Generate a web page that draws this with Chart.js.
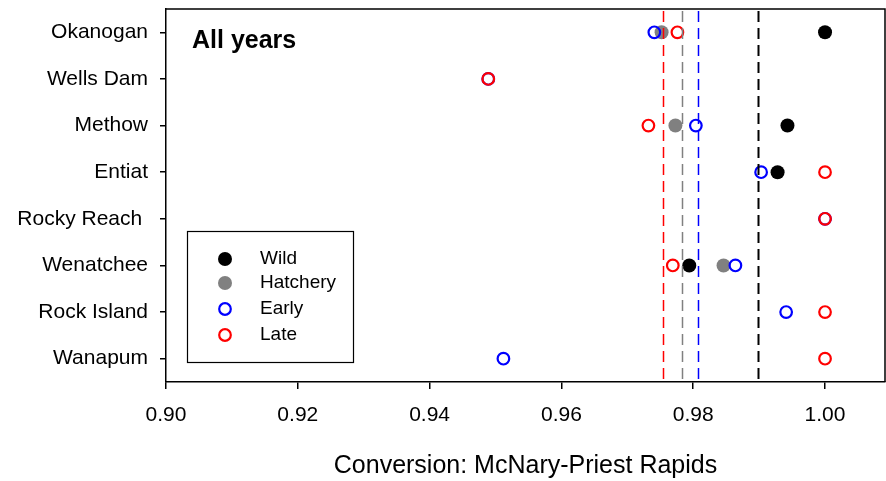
<!DOCTYPE html>
<html>
<head>
<meta charset="utf-8">
<script src="https://cdn.jsdelivr.net/npm/chart.js@4/dist/chart.umd.min.js"></script>
<style>
  html, body { margin: 0; padding: 0; background: #fff; overflow: hidden; }
</style>
</head>
<body>
<canvas id="c" width="886" height="481"></canvas>
<script>
/* -------- Daten -------- */
const sites = ["Okanogan", "Wells Dam", "Methow", "Entiat", "Rocky Reach ", "Wenatchee", "Rock Island", "Wanapum"];

// Werte pro Standort (null = kein Punkt)
const wild     = [1.000, null,  0.9943, 0.9928, null,  0.9794, null,   null];
const hatchery = [0.9752, null, 0.9773, null,   null,  0.9846, null,   null];
const early    = [0.9741, 0.9489, 0.9804, 0.9903, 1.000, 0.9864, 0.9941, 0.9512];
const late     = [0.9776, 0.9489, 0.9732, 1.000, 1.000, 0.9769, 1.000, 1.000];

// Mittelwerte (gestrichelte Linien)
const meanWild = 0.9898;
const meanHatchery = 0.9783;
const meanEarly = 0.9807;
const meanLate = 0.9754;

const xTicks = [0.90, 0.92, 0.94, 0.96, 0.98, 1.00];
const legendLabels = ["Wild", "Hatchery", "Early", "Late"];

const FONT = "'Liberation Sans', Arial, sans-serif";

function toPoints(values) {
  return values
    .map((v, i) => (v === null ? null : { x: v, y: sites[i] }))
    .filter(p => p);
}

/* -------- Plugin: Rahmen, Mittelwerte, Legende, Text -------- */
const extras = {
  id: "extras",
  afterDatasetsDraw(chart) {
    const { ctx, chartArea: a, scales } = chart;
    const xs = scales.x;

    // gestrichelte Mittelwert-Linien
    const means = [
      { v: meanLate, c: "#ff0000", w: 1.5 },
      { v: meanHatchery, c: "#808080", w: 1.5 },
      { v: meanEarly, c: "#0000ff", w: 1.5 },
      { v: meanWild, c: "#000000", w: 2 }
    ];
    ctx.save();
    means.forEach(m => {
      const px = Math.round(xs.getPixelForValue(m.v)) + 0.5;
      ctx.beginPath();
      ctx.setLineDash([11, 6]);
      ctx.strokeStyle = m.c;
      ctx.lineWidth = m.w;
      ctx.moveTo(px, a.top + 2);
      ctx.lineTo(px, a.bottom);
      ctx.stroke();
    });
    ctx.restore();

    // Rahmen oben / rechts
    ctx.save();
    ctx.strokeStyle = "#000";
    ctx.lineWidth = 1.5;
    ctx.beginPath();
    ctx.moveTo(a.left, a.top);
    ctx.lineTo(a.right, a.top);
    ctx.lineTo(a.right, a.bottom);
    ctx.stroke();
    ctx.restore();

    // "All years"
    ctx.save();
    ctx.fillStyle = "#000";
    ctx.font = "bold 25px " + FONT;
    ctx.textBaseline = "middle";
    ctx.fillText("All years", 192, 41);
    ctx.restore();

    // Legende
    ctx.save();
    ctx.strokeStyle = "#000";
    ctx.lineWidth = 1.2;
    ctx.fillStyle = "#fff";
    ctx.fillRect(187, 231, 166, 131);
    ctx.strokeRect(187.5, 231.5, 166, 131);
    const rows = [
      { y: 259, fill: "#000", stroke: "#000" },
      { y: 283, fill: "#808080", stroke: "#808080" },
      { y: 309, fill: null, stroke: "#0000ff" },
      { y: 335, fill: null, stroke: "#ff0000" }
    ];
    ctx.font = "19px " + FONT;
    ctx.textBaseline = "middle";
    rows.forEach((r, i) => {
      ctx.beginPath();
      ctx.arc(225, r.y, r.fill ? 7 : 5.8, 0, Math.PI * 2);
      if (r.fill) { ctx.fillStyle = r.fill; ctx.fill(); }
      else { ctx.lineWidth = 2.2; ctx.strokeStyle = r.stroke; ctx.stroke(); }
      ctx.fillStyle = "#000";
      ctx.fillText(legendLabels[i], 260, r.y);
    });
    ctx.restore();
  }
};

/* -------- Chart -------- */
const filled = (label, data, color, order) => ({
  label, data: toPoints(data), order,
  pointStyle: "circle", pointRadius: 7, pointHoverRadius: 7,
  backgroundColor: color, borderColor: color, borderWidth: 0
});
const open = (label, data, color, order) => ({
  label, data: toPoints(data), order,
  pointStyle: "circle", pointRadius: 5.8, pointHoverRadius: 5.8,
  backgroundColor: "rgba(255,255,255,0)", borderColor: color, borderWidth: 2.2
});

new Chart(document.getElementById("c"), {
  type: "scatter",
  data: {
    datasets: [
      filled("Wild", wild, "#000000", 1),
      filled("Hatchery", hatchery, "#808080", 3),
      open("Early", early, "#0000ff", 2),
      open("Late", late, "#ff0000", 0)
    ]
  },
  options: {
    responsive: false,
    animation: false,
    events: [],
    layout: { autoPadding: false, padding: { top: 9, right: 1, left: 0, bottom: 0 } },
    plugins: { legend: { display: false }, tooltip: { enabled: false } },
    scales: {
      x: {
        type: "linear",
        min: 0.9,
        max: 1.0091,
        afterBuildTicks: s => { s.ticks = xTicks.map(v => ({ value: v })); },
        afterFit: s => { s.height = 99; s.paddingLeft = 0; s.paddingRight = 0; },
        grid: { drawOnChartArea: false, drawTicks: true, tickLength: 7, color: "#000", lineWidth: 1.5 },
        border: { display: true, color: "#000", width: 1.5 },
        ticks: {
          color: "#000", padding: 14,
          font: { family: FONT, size: 21 },
          callback: v => v.toFixed(2)
        },
        title: {
          display: true, text: "Conversion: McNary-Priest Rapids",
          color: "#000", font: { family: FONT, size: 25 },
          padding: { top: 16, bottom: 0 }
        }
      },
      y: {
        type: "category",
        labels: sites,
        offset: true,
        afterFit: s => { s.width = 166; s.paddingTop = 0; s.paddingBottom = 0; },
        grid: { offset: false, drawOnChartArea: false, drawTicks: true, tickLength: 6, color: "#000", lineWidth: 1.5 },
        border: { display: true, color: "#000", width: 1.5 },
        ticks: { color: "#000", padding: 12, font: { family: FONT, size: 21 } }
      }
    }
  },
  plugins: [extras]
});
</script>
</body>
</html>
